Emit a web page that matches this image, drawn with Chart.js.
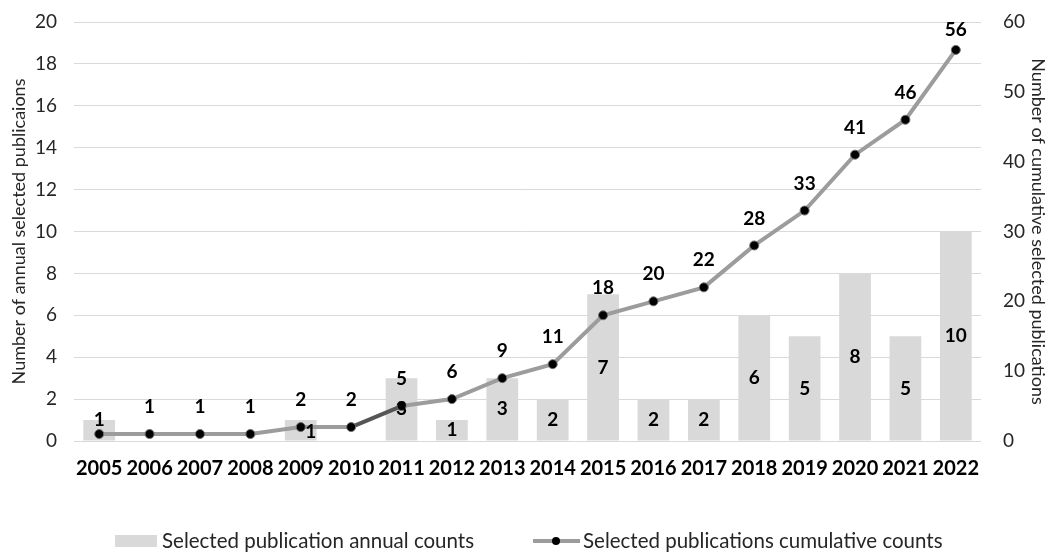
<!DOCTYPE html>
<html>
<head>
<meta charset="utf-8">
<script src="https://cdn.jsdelivr.net/npm/chart.js@4.4.0/dist/chart.umd.min.js"></script>
<style>
  html, body { margin: 0; padding: 0; background: #fff; }
  #wrap { width: 1049px; height: 552px; }
</style>
</head>
<body>
<div id="wrap"><canvas id="myChart"></canvas></div>
<script>
// data
var years = ['2005', '2006', '2007', '2008', '2009', '2010', '2011', '2012', '2013',
  '2014', '2015', '2016', '2017', '2018', '2019', '2020', '2021', '2022'];
var annualCounts = [1, 0, 0, 0, 1, 0, 3, 1, 3, 2, 7, 2, 2, 6, 5, 8, 5, 10];
var cumulativeCounts = [1, 1, 1, 1, 2, 2, 5, 6, 9, 11, 18, 20, 22, 28, 33, 41, 46, 56];

var barLabel = 'Selected publication annual counts';
var lineLabel = 'Selected publications cumulative counts';

// label tweaks, where the original moved labels out of each other's way
var barLabelNudge = { 0: [0, -10], 4: [10, 2] };
var lineLabelNudge = { 17: [0, 7] };
var hideLineLabel = [0];

Chart.defaults.font.family = 'Lato, "Open Sans", sans-serif';
Chart.defaults.color = '#262626';

var valueLabels = {
  id: 'valueLabels',
  afterDatasetsDraw: function (chart) {
    var ctx = chart.ctx;
    ctx.save();
    ctx.font = 'bold 19px Lato';
    ctx.fillStyle = '#000';
    ctx.textAlign = 'center';
    ctx.textBaseline = 'middle';
    // bar labels in the middle of each bar
    chart.getDatasetMeta(0).data.forEach(function (bar, i) {
      var v = annualCounts[i];
      if (!v) return;
      var n = barLabelNudge[i] || [0, 0];
      ctx.fillText(v, bar.x + n[0], (bar.y + bar.base) / 2 + n[1]);
    });
    // line labels above the points
    chart.getDatasetMeta(1).data.forEach(function (pt, i) {
      if (hideLineLabel.indexOf(i) >= 0) return;
      var n = lineLabelNudge[i] || [0, 0];
      ctx.fillText(cumulativeCounts[i], pt.x + n[0], pt.y - 27 + n[1]);
    });
    ctx.restore();
  }
};

var bottomLegend = {
  id: 'bottomLegend',
  afterDraw: function (chart) {
    var ctx = chart.ctx;
    var ds = chart.data.datasets;
    var y = 541;
    ctx.save();
    ctx.font = '20.5px Lato';
    ctx.textBaseline = 'middle';
    ctx.textAlign = 'left';
    // bar item
    ctx.fillStyle = ds[0].backgroundColor;
    ctx.fillRect(115, y - 6, 42, 12);
    ctx.fillStyle = '#262626';
    ctx.fillText(ds[0].label, 162, y);
    // line item
    ctx.strokeStyle = ds[1].borderColor;
    ctx.lineWidth = 4;
    ctx.beginPath();
    ctx.moveTo(533, y);
    ctx.lineTo(580, y);
    ctx.stroke();
    ctx.fillStyle = '#000';
    ctx.beginPath();
    ctx.arc(556, y, 4, 0, Math.PI * 2);
    ctx.fill();
    ctx.fillStyle = '#262626';
    ctx.fillText(ds[1].label, 583, y);
    ctx.restore();
  }
};

function fixWidth(w) {
  return function (s) {
    s.width = w;
    s.paddingTop = 0;
    s.paddingBottom = 0;
  };
}

var ctx = document.getElementById('myChart').getContext('2d');
var chart = new Chart(ctx, {
  type: 'bar',
  data: {
    labels: years,
    datasets: [
      {
        type: 'bar',
        label: barLabel,
        data: annualCounts,
        backgroundColor: '#d9d9d9',
        categoryPercentage: 1,
        barPercentage: 0.63,
        yAxisID: 'y',
        order: 2
      },
      {
        type: 'line',
        label: lineLabel,
        data: cumulativeCounts,
        borderColor: '#9c9c9c',
        borderWidth: 4,
        tension: 0,
        pointRadius: 4.5,
        pointBackgroundColor: '#000',
        pointBorderColor: '#6e6e6e',
        pointBorderWidth: 1,
        segment: {
          borderColor: function (c) { return c.p0DataIndex === 5 ? '#555555' : undefined; }
        },
        yAxisID: 'y1',
        order: 1
      }
    ]
  },
  options: {
    responsive: true,
    maintainAspectRatio: false,
    animation: false,
    layout: { padding: { top: 22, left: 0, right: 0, bottom: 0 } },
    plugins: {
      legend: { display: false },
      tooltip: { enabled: false }
    },
    scales: {
      x: {
        grid: { display: false, drawTicks: false },
        border: { display: false },
        ticks: { font: { size: 20, weight: 'bold' }, color: '#000', padding: 16, maxRotation: 0 },
        afterFit: function (s) {
          s.height = 111;
          s.paddingLeft = 0;
          s.paddingRight = 0;
        }
      },
      y: {
        position: 'left',
        min: 0,
        max: 20,
        ticks: { stepSize: 2, font: { size: 19 }, padding: 17 },
        grid: { color: '#d9d9d9', lineWidth: 1, drawTicks: false },
        border: { display: false },
        title: {
          display: true,
          text: 'Number of annual selected publicaions',
          font: { size: 18 },
          padding: { top: 8, bottom: 0 }
        },
        afterFit: fixWidth(74)
      },
      y1: {
        position: 'right',
        min: 0,
        max: 60,
        ticks: { stepSize: 10, font: { size: 19 }, padding: 22 },
        grid: { display: false, drawTicks: false },
        border: { display: false },
        title: {
          display: true,
          text: 'Number of cumulative selected publications',
          font: { size: 18 },
          padding: { top: 0, bottom: 0 }
        },
        afterFit: fixWidth(68)
      }
    }
  },
  plugins: [valueLabels, bottomLegend]
});
</script>
</body>
</html>
